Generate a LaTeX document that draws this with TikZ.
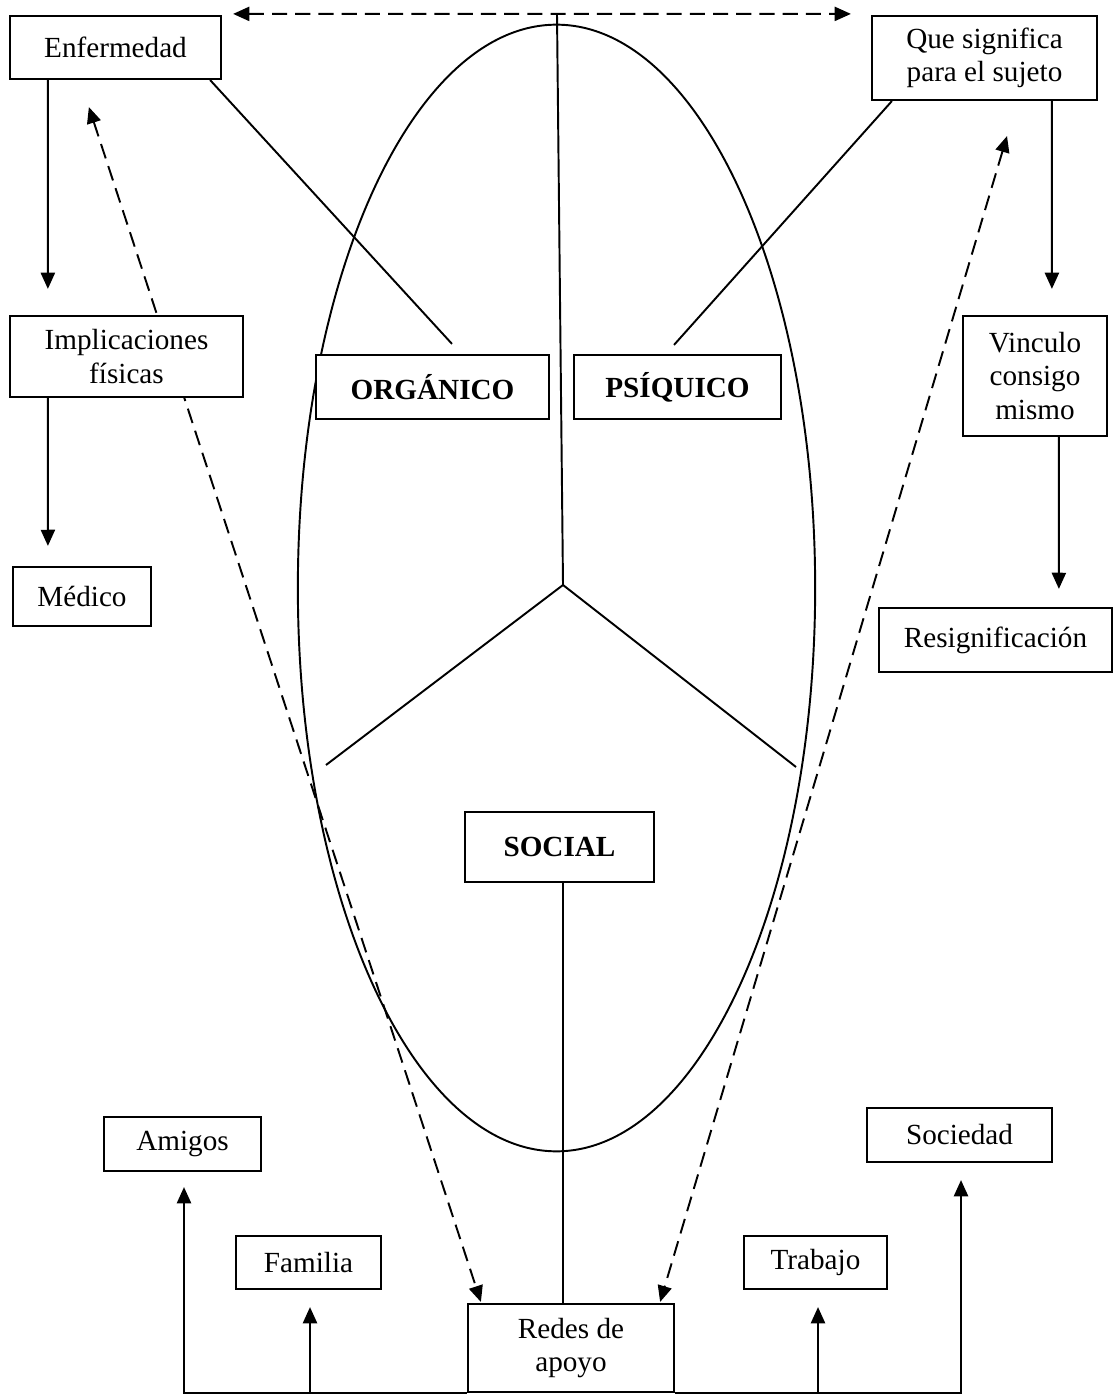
\documentclass[tikz,border=0pt]{standalone}
\usepackage{fontspec}
\setmainfont{Liberation Serif}
\usetikzlibrary{arrows.meta, calc, backgrounds}

\begin{document}
\begin{tikzpicture}[x=0.01cm, y=-0.01cm,
    caja/.style={draw, fill=white, line width=0.6pt, align=center, inner sep=0pt,
      font=\fontsize{8.3}{9.4}\selectfont},
    negrita/.style={font=\fontsize{8.3}{9.4}\selectfont\bfseries},
    linea/.style={line width=0.55pt},
    flecha/.style={line width=0.6pt, -{Triangle[length=4.6pt, width=4pt]}},
    guion/.style={line width=0.55pt, dash pattern=on 4.3pt off 2.3pt,
      {Triangle[length=4.6pt, width=4pt]}-{Triangle[length=4.6pt, width=4pt]}}]
  \useasboundingbox (0,0) rectangle (1114,1395);

  % cajas
  \node[caja, minimum width=2.11cm, minimum height=0.63cm] (enf) at (115.5,47.5) {Enfermedad};
  \node[caja, minimum width=2.25cm, minimum height=0.84cm] (que) at (984.5,58) {Que significa\\para el sujeto};
  \node[caja, minimum width=2.33cm, minimum height=0.81cm] (impl) at (126.5,356.5) {Implicaciones\\físicas};
  \node[caja, minimum width=1.38cm, minimum height=0.59cm] (med) at (82,596.5) {Médico};
  \node[caja, negrita, minimum width=2.33cm, minimum height=0.64cm] (org) at (432.5,387) {ORGÁNICO};
  \node[caja, negrita, minimum width=2.07cm, minimum height=0.64cm] (psi) at (677.5,387) {PSÍQUICO};
  \node[caja, minimum width=1.44cm, minimum height=1.20cm] (vin) at (1035,376) {Vinculo\\consigo\\mismo};
  \node[caja, minimum width=2.33cm, minimum height=0.64cm] (res) at (995.5,640) {Resignificación};
  \node[caja, negrita, minimum width=1.89cm, minimum height=0.70cm] (soc) at (559.5,847) {SOCIAL};
  \node[caja, minimum width=2.06cm, minimum height=0.88cm] (redes) at (571,1348) {Redes de\\apoyo};
  \node[caja, minimum width=1.57cm, minimum height=0.54cm] (amigos) at (182.5,1144) {Amigos};
  \node[caja, minimum width=1.45cm, minimum height=0.53cm] (familia) at (308.5,1262.5) {Familia};
  \node[caja, minimum width=1.43cm, minimum height=0.53cm] (trabajo) at (815.5,1262.5) {Trabajo};
  \node[caja, minimum width=1.85cm, minimum height=0.54cm] (sociedad) at (959.5,1135) {Sociedad};

  \coordinate (cima) at (557,15);
  \coordinate (centro) at (563,585);
  \coordinate (izq) at (326,765);
  \coordinate (der) at (796,767);

  \begin{scope}[on background layer]
    \draw[linea] (556.5,588) ellipse [x radius=2.585cm, y radius=5.63cm];
    \draw[linea] (cima) -- (centro) -- (izq);
    \draw[linea] (centro) -- (der);
    \draw[linea] ($(enf.south east)+(-12,0)$) -- ($(org.north)+(19.5,-10)$);
    \draw[linea] ($(que.south west)+(21,0)$) -- ($(psi.north)+(-3.5,-9)$);
    \draw[guion] ($(enf.south west)+(80,27)$) -- ($(redes.north west)+(14,-1)$);
    \draw[guion] ($(que.south)+(22.5,35)$) -- ($(redes.north east)+(-15,-1)$);
  \end{scope}

  \draw[guion] ($(enf.north east)+(11,-1)$) -- ($(que.north west)+(-20,-1)$);
  \draw[linea] (soc.south -| centro) -- (redes.north -| centro);

  % flechas
  \draw[flecha] ($(enf.south west)+(39,0)$) -- ($(impl.north west)+(39,-26)$);
  \draw[flecha] ($(impl.south west)+(39,0)$) -- ($(med.north west)+(36,-20)$);
  \draw[flecha] ($(que.south west)+(181,0)$) -- ($(vin.north west)+(90,-26)$);
  \draw[flecha] ($(vin.south west)+(97,0)$) -- ($(res.north west)+(181,-18)$);
  \draw[flecha] (redes.south west) -| ($(amigos.south)+(1.5,15)$);
  \draw[flecha] ($(redes.south -| familia.south)+(1.5,0)$) -- ($(familia.south)+(1.5,17)$);
  \draw[flecha] (redes.south east) -| ($(sociedad.south)+(1.5,17)$);
  \draw[flecha] ($(redes.south -| trabajo.south)+(2.5,0)$) -- ($(trabajo.south)+(2.5,17)$);
\end{tikzpicture}
\end{document}
